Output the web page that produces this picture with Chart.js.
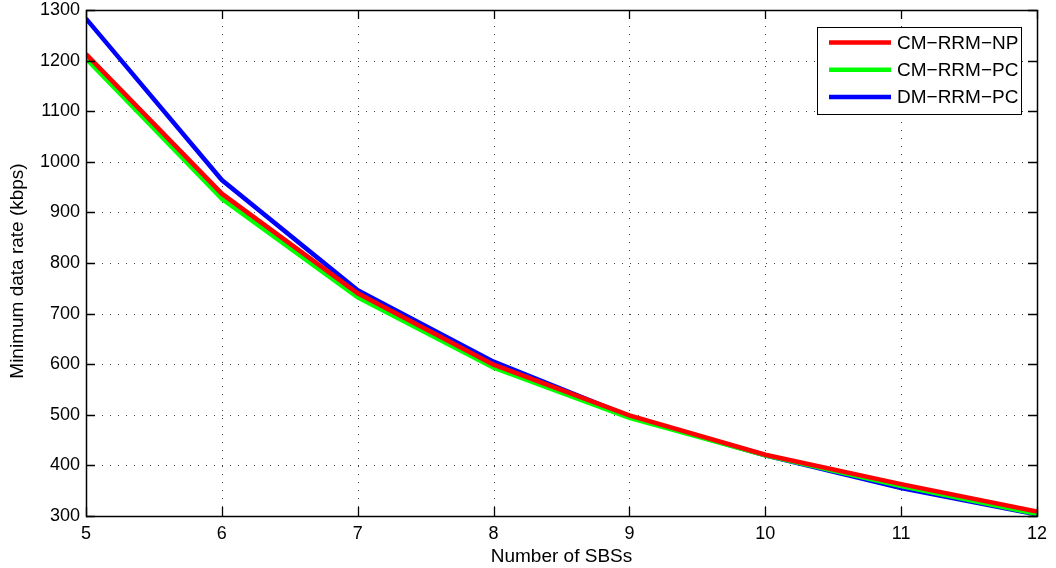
<!DOCTYPE html>
<html>
<head>
<meta charset="utf-8">
<script src="https://cdn.jsdelivr.net/npm/chart.js@4"></script>
<style>
  html, body { margin: 0; padding: 0; background: #fff; }
  #wrap { width: 1056px; height: 568px; }
</style>
</head>
<body>
<div id="wrap"><canvas id="c" width="1056" height="568"></canvas></div>
<script>
// Number of small base stations
const sbsCounts = [5, 6, 7, 8, 9, 10, 11, 12];
// Minimum data rate (kbps) per scheme
const cmRrmNp = [1213, 937, 740, 599, 499, 421, 363, 309];
const cmRrmPc = [1204, 927, 732, 593, 494, 420, 359, 304];
const dmRrmPc = [1283, 964, 746, 605, 497, 420, 355, 303];
const seriesNames = ['CM\u2212RRM\u2212NP', 'CM\u2212RRM\u2212PC', 'DM\u2212RRM\u2212PC'];
const seriesColors = ['#ff0000', '#00ff00', '#0000ff'];
const yTicks = [300, 400, 500, 600, 700, 800, 900, 1000, 1100, 1200, 1300];
const yTitle = 'Minimum data rate (kbps)';

const FONT = 'Liberation Sans, Arial, Helvetica, sans-serif';

function toPoints(vals) {
  return sbsCounts.map((x, i) => ({ x: x, y: vals[i] }));
}

// Dotted grid, inward tick marks and the full axes box
const boxGrid = {
  id: 'boxGrid',
  beforeDatasetsDraw(chart) {
    const { ctx, chartArea: a, scales: { x, y } } = chart;
    ctx.save();
    ctx.lineWidth = 1;
    ctx.strokeStyle = '#444';
    ctx.setLineDash([1, 7]);
    x.ticks.forEach(t => {
      const px = Math.round(x.getPixelForValue(t.value)) + 0.5;
      if (px <= a.left + 1 || px >= a.right - 1) return;
      ctx.beginPath(); ctx.moveTo(px, a.top); ctx.lineTo(px, a.bottom); ctx.stroke();
    });
    y.ticks.forEach(t => {
      const py = Math.round(y.getPixelForValue(t.value)) + 0.5;
      if (py <= a.top + 1 || py >= a.bottom - 1) return;
      ctx.beginPath(); ctx.moveTo(a.left, py); ctx.lineTo(a.right, py); ctx.stroke();
    });
    ctx.restore();
  },
  afterDatasetsDraw(chart) {
    const { ctx, chartArea: a, scales: { x, y } } = chart;
    ctx.save();
    ctx.strokeStyle = '#000';
    ctx.lineWidth = 1.3;
    const L = 9;
    x.ticks.forEach(t => {
      const px = Math.round(x.getPixelForValue(t.value)) + 0.5;
      ctx.beginPath();
      ctx.moveTo(px, a.bottom); ctx.lineTo(px, a.bottom - L);
      ctx.moveTo(px, a.top); ctx.lineTo(px, a.top + L);
      ctx.stroke();
    });
    y.ticks.forEach(t => {
      const py = Math.round(y.getPixelForValue(t.value)) + 0.5;
      ctx.beginPath();
      ctx.moveTo(a.left, py); ctx.lineTo(a.left + L, py);
      ctx.moveTo(a.right, py); ctx.lineTo(a.right - L, py);
      ctx.stroke();
    });
    ctx.lineWidth = 1.5;
    ctx.strokeRect(Math.round(a.left) + 0.5, Math.round(a.top) + 0.5,
                   Math.round(a.right - a.left), Math.round(a.bottom - a.top));

    // rotated y-axis title, sitting a little below the axis midpoint
    ctx.save();
    ctx.translate(18, (a.top + a.bottom) / 2 + 8);
    ctx.rotate(-Math.PI / 2);
    ctx.font = '19px ' + FONT;
    ctx.fillStyle = '#000';
    ctx.textAlign = 'center';
    ctx.textBaseline = 'middle';
    ctx.fillText(yTitle, 0, 0);
    ctx.restore();
    ctx.restore();
  }
};

// Boxed legend in the upper right corner
const boxLegend = {
  id: 'boxLegend',
  afterDraw(chart) {
    const { ctx } = chart;
    const bx = 817, by = 27, bw = 204, bh = 87;
    ctx.save();
    ctx.fillStyle = '#fff';
    ctx.fillRect(bx, by, bw, bh);
    ctx.strokeStyle = '#000';
    ctx.lineWidth = 1;
    ctx.strokeRect(bx + 0.5, by + 0.5, bw, bh);
    ctx.font = '19px ' + FONT;
    ctx.textBaseline = 'middle';
    ctx.fillStyle = '#000';
    chart.data.datasets.forEach((ds, i) => {
      const ry = 42.5 + i * 27.3;
      ctx.strokeStyle = ds.borderColor;
      ctx.lineWidth = 4.5;
      ctx.beginPath(); ctx.moveTo(829, ry); ctx.lineTo(891, ry); ctx.stroke();
      ctx.fillText(ds.label, 897, ry + 1);
    });
    ctx.restore();
  }
};

const datasets = [cmRrmNp, cmRrmPc, dmRrmPc].map((vals, i) => ({
  label: seriesNames[i],
  data: toPoints(vals),
  borderColor: seriesColors[i],
  backgroundColor: seriesColors[i],
  borderWidth: 4.5,
  pointRadius: 0,
  tension: 0,
  fill: false
}));

new Chart(document.getElementById('c'), {
  type: 'line',
  data: { datasets },
  plugins: [boxGrid, boxLegend],
  options: {
    responsive: false,
    animation: false,
    events: [],
    layout: { padding: { top: 10, right: 19, left: 0, bottom: 0 } },
    plugins: { legend: { display: false }, tooltip: { enabled: false } },
    scales: {
      x: {
        type: 'linear',
        min: 5, max: 12,
        grid: { display: false, drawTicks: false },
        border: { display: false },
        afterFit(s) { s.height = 52; s.paddingRight = 0; s.paddingLeft = 0; },
        ticks: { stepSize: 1, color: '#000', padding: 7, font: { family: FONT, size: 18 },
                 callback: v => String(v) },
        title: { display: true, text: 'Number of SBSs', color: '#000', padding: { top: 0, bottom: 0 },
                 font: { family: FONT, size: 19 } }
      },
      y: {
        type: 'linear',
        min: 300, max: 1300,
        grid: { display: false, drawTicks: false },
        border: { display: false },
        afterFit(s) { s.width = 86; s.paddingTop = 0; s.paddingBottom = 0; },
        afterBuildTicks(s) { s.ticks = yTicks.map(v => ({ value: v })); },
        ticks: { color: '#000', padding: 6, font: { family: FONT, size: 18 },
                 callback: v => String(v) }
      }
    }
  }
});
</script>
</body>
</html>
